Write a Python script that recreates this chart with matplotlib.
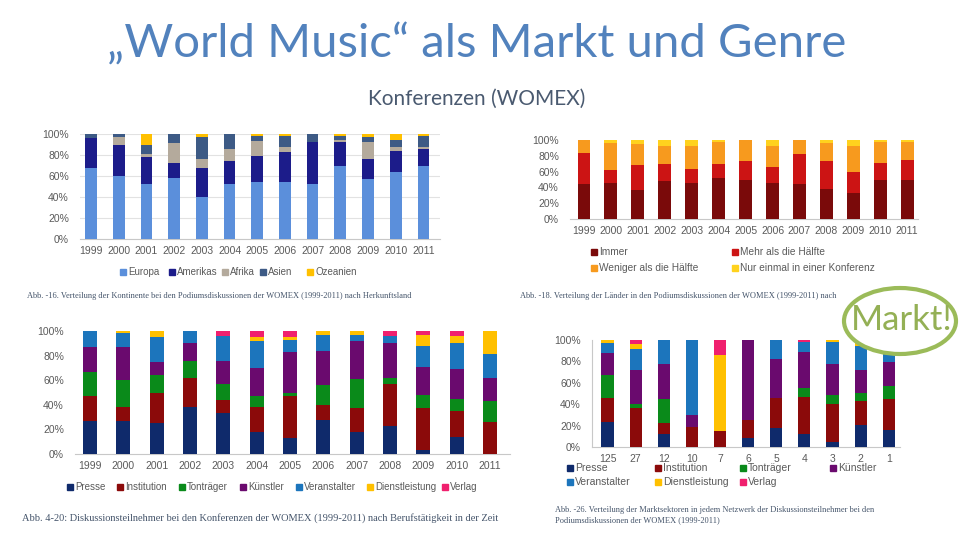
import numpy as np
import matplotlib.pyplot as plt
from matplotlib.patches import Ellipse, Rectangle

plt.rcParams['font.family'] = ['Liberation Sans', 'DejaVu Sans']

# --- chart 1: Kontinente ---
years = ["1999", "2000", "2001", "2002", "2003", "2004", "2005", "2006",
         "2007", "2008", "2009", "2010", "2011"]
kont_names = ["Europa", "Amerikas", "Afrika", "Asien", "Ozeanien"]
europa = [68, 60, 52, 58, 40, 52, 54, 54, 52, 70, 57, 64, 70]
amerikas = [28, 30, 26, 14, 28, 22, 25, 29, 40, 22, 19, 20, 16]
afrika = [0, 7, 3, 19, 8, 12, 14, 5, 0, 2, 16, 4, 2]
asien = [4, 3, 9, 9, 21, 14, 5, 10, 8, 4, 5, 6, 10]
ozeanien = [0, 0, 10, 0, 3, 0, 2, 2, 0, 2, 3, 6, 2]
kont_colors = ["#5b8fdb", "#1c1c8a", "#b4aa9c", "#3d5a85", "#ffc000"]

# --- chart 2: Länder ---
freq_names = ["Immer", "Mehr als die Hälfte", "Weniger als die Hälfte",
              "Nur einmal in einer Konferenz"]
immer = [44, 45, 37, 48, 45, 52, 49, 45, 44, 38, 33, 50, 49]
mehr = [40, 17, 31, 22, 18, 17, 24, 21, 38, 36, 27, 21, 26]
weniger = [16, 34, 27, 22, 29, 28, 27, 26, 18, 22, 33, 27, 22]
einmal = [0, 4, 5, 8, 8, 3, 0, 8, 0, 4, 7, 2, 3]
freq_colors = ["#7a0a0a", "#cc1414", "#f79a1e", "#ffd21e"]

# --- chart 3: Berufstätigkeit ---
beruf_names = ["Presse", "Institution", "Tonträger", "Künstler",
               "Veranstalter", "Dienstleistung", "Verlag"]
presse = [27, 27, 25, 38, 33, 18, 13, 28, 18, 23, 3, 14, 0]
institution = [20, 11, 25, 24, 11, 20, 34, 12, 19, 34, 34, 21, 26]
tontraeger = [20, 22, 14, 14, 13, 9, 3, 16, 24, 5, 11, 10, 17]
kuenstler = [20, 27, 11, 14, 19, 23, 33, 28, 31, 28, 23, 24, 19]
veranstalter = [13, 11, 20, 10, 20, 22, 10, 13, 5, 6, 17, 21, 19]
dienst = [0, 2, 5, 0, 0, 3, 2, 3, 3, 0, 9, 6, 19]
verlag = [0, 0, 0, 0, 4, 5, 5, 0, 0, 4, 3, 4, 0]
beruf_colors = ["#0f2a6b", "#8b0a0a", "#0a8a1a", "#6a0a6e",
                "#1c75bc", "#ffc000", "#f0206e"]

# --- chart 4: Netzwerke ---
netz = ["125", "27", "12", "10", "7", "6", "5", "4", "3", "2", "1"]
n_presse = [23, 0, 12, 0, 0, 8, 18, 12, 5, 21, 16]
n_institution = [23, 36, 10, 19, 15, 17, 28, 35, 35, 22, 29]
n_tontraeger = [21, 4, 23, 0, 0, 0, 0, 8, 9, 7, 12]
n_kuenstler = [21, 32, 33, 11, 0, 75, 36, 34, 29, 22, 22]
n_veranstalter = [9, 20, 22, 70, 0, 0, 18, 9, 20, 22, 21]
n_dienst = [3, 4, 0, 0, 71, 0, 0, 0, 2, 6, 0]
n_verlag = [0, 4, 0, 0, 14, 0, 0, 2, 0, 0, 0]

W, H = 960, 540
fig = plt.figure(figsize=(9.6, 5.4), dpi=100)
fig.patch.set_facecolor("white")


def px_axes(x0, x1, y_top, y_bot):
    return fig.add_axes([x0 / W, 1 - y_bot / H, (x1 - x0) / W, (y_bot - y_top) / H])


def stacked(ax, labels, series, colors, width, grid=False):
    x = np.arange(len(labels))
    bottom = np.zeros(len(labels))
    for vals, c in zip(series, colors):
        v = np.array(vals) / 100.0
        ax.bar(x, v, width, bottom=bottom, color=c, zorder=3)
        bottom += v
    ax.set_ylim(0, 1)
    ax.set_yticks([0, 0.2, 0.4, 0.6, 0.8, 1.0])
    ax.set_yticklabels(["0%", "20%", "40%", "60%", "80%", "100%"])
    ax.set_xticks(x)
    ax.set_xticklabels(labels)
    for s in ["top", "right", "left"]:
        ax.spines[s].set_visible(False)
    ax.spines["bottom"].set_color("#c8c8c8")
    ax.tick_params(axis="both", colors="#5a5a5a", labelsize=7.5, length=0)
    ax.tick_params(axis="y", pad=8)
    ax.tick_params(axis="x", pad=5)
    if grid:
        ax.yaxis.grid(True, color="#e2e2e2", lw=0.8, zorder=0)
    ax.set_facecolor("none")
    return x


def legend_items(names, colors, xs, ys, size=7):
    # small square + label, placed by pixel position of the square
    for name, c, x, y in zip(names, colors, xs, ys):
        fig.add_artist(Rectangle(((x - 3) / W, 1 - (y + 3) / H), 6 / W, 6 / H,
                                 transform=fig.transFigure, color=c))
        fig.text((x + 5) / W, 1 - y / H, name, fontsize=size, color="#5a5a5a",
                 va="center", ha="left")


# chart 1
ax1 = px_axes(80, 440, 134, 239)
stacked(ax1, years, [europa, amerikas, afrika, asien, ozeanien], kont_colors, 0.42, grid=True)
ax1.set_xlim(-0.4, 12.6)
legend_items(kont_names, kont_colors, [123, 172, 225, 263, 310], [272] * 5, 7)

# chart 2
ax2 = px_axes(570, 918, 140, 219)
stacked(ax2, years, [immer, mehr, weniger, einmal], freq_colors, 0.48)
ax2.set_xlim(-0.52, 12.4)
legend_items(freq_names, freq_colors, [594, 735, 594, 735], [252, 252, 268, 268], 7.3)

# chart 3
beruf_series = [presse, institution, tontraeger, kuenstler, veranstalter, dienst, verlag]
ax3 = px_axes(75, 510, 331, 454)
stacked(ax3, years, beruf_series, beruf_colors, 0.42)
ax3.set_xlim(-0.45, 12.6)
legend_items(beruf_names, beruf_colors, [70, 120, 182, 243, 299, 370, 445], [487] * 7, 7)

# chart 4
netz_series = [n_presse, n_institution, n_tontraeger, n_kuenstler,
               n_veranstalter, n_dienst, n_verlag]
ax4 = px_axes(592, 900, 340, 447)
stacked(ax4, netz, netz_series, beruf_colors, 0.43)
ax4.set_xlim(-0.55, 10.4)
ax4.spines["left"].set_visible(True)
ax4.spines["left"].set_color("#c8c8c8")
legend_items(beruf_names, beruf_colors, [570, 658, 743, 833, 570, 658, 743],
             [468, 468, 468, 468, 482, 482, 482], 7.5)

# titles
fig.text(0.497, 1 - 44 / H, "„World Music“ als Markt und Genre", ha="center", va="center",
         fontsize=34, color="#5282bd", family=["Lato", "DejaVu Sans"])
fig.text(0.497, 1 - 99 / H, "Konferenzen (WOMEX)", ha="center", va="center",
         fontsize=15, color="#4a5a70", family=["Lato", "DejaVu Sans"])

# captions
cap = dict(family=["Liberation Serif", "DejaVu Serif"], color="#44546a", va="center")
fig.text(27 / W, 1 - 296 / H, "Abb. -16. Verteilung der Kontinente bei den Podiumsdiskussionen "
         "der WOMEX (1999-2011) nach Herkunftsland", fontsize=6, **cap)
fig.text(520 / W, 1 - 296 / H, "Abb. -18. Verteilung der Länder in den Podiumsdiskussionen "
         "der WOMEX (1999-2011) nach", fontsize=6, **cap)
fig.text(22 / W, 1 - 518 / H, "Abb. 4-20: Diskussionsteilnehmer bei den Konferenzen der WOMEX "
         "(1999-2011) nach Berufstätigkeit in der Zeit", fontsize=7.5, **cap)
fig.text(555 / W, 1 - 515 / H, "Abb. -26. Verteilung der Marktsektoren in jedem Netzwerk der "
         "Diskussionsteilnehmer bei den\nPodiumsdiskussionen der WOMEX (1999-2011)",
         fontsize=6, linespacing=1.3, **cap)

# Markt! bubble
ell = Ellipse((900 / W, 1 - 321 / H), 112 / W, 66 / H, transform=fig.transFigure,
              facecolor="white", edgecolor="#9bbb59", lw=3, zorder=5)
fig.add_artist(ell)
fig.text(902 / W, 1 - 320 / H, "Markt!", ha="center", va="center", fontsize=25,
         color="#94b055", family=["Lato", "DejaVu Sans"], zorder=6)

fig.savefig("out.png", dpi=100)
